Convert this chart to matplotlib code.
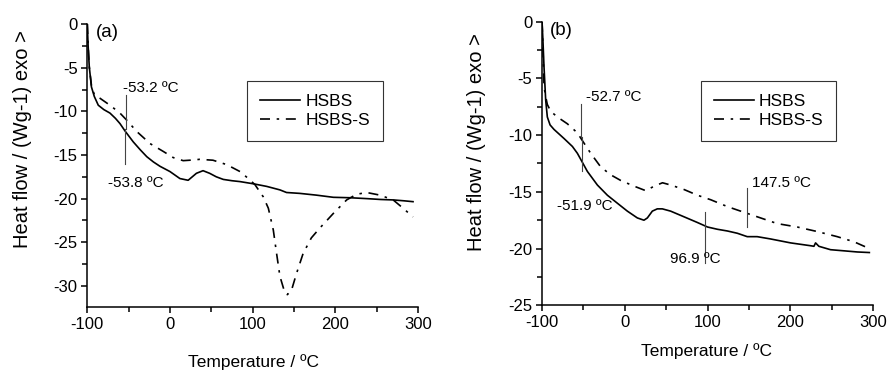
import numpy as np
import matplotlib
matplotlib.use('Agg')
import matplotlib.pyplot as plt
from matplotlib.ticker import MultipleLocator

plt.rcParams['font.family'] = ['Liberation Sans', 'DejaVu Sans']
plt.rcParams['axes.unicode_minus'] = False

# DSC curves, sample (a)
t_a_hsbs = [-100, -99, -97.6, -95, -91.5, -86.7, -80, -72.6, -66, -60.5, -54, -44.4, -36, -28,
            -20, -12, 0, 12, 22, 27, 32, 40, 48, 56, 64.5, 75, 84.7, 100.8, 117, 133, 141, 157,
            177, 197.6, 218, 238, 255, 270, 283, 294]
q_a_hsbs = [0, -2.5, -4.9, -7.2, -8.3, -9.3, -9.8, -10.2, -10.8, -11.4, -12.3, -13.5, -14.4, -15.2,
            -15.8, -16.3, -16.9, -17.7, -17.9, -17.5, -17.1, -16.8, -17.1, -17.5, -17.8, -17.95,
            -18.05, -18.3, -18.6, -19.0, -19.3, -19.4, -19.6, -19.85, -19.9, -20.0, -20.1, -20.15,
            -20.25, -20.35]

t_a_hsbss = [-100, -99, -97.6, -95, -91.5, -84.7, -72.6, -60.5, -52.4, -40.3, -24, -8, 4, 16, 24,
             36, 52, 68.5, 84.7, 94.8, 102.8, 112.9, 119, 125, 129, 133, 139, 142, 147, 153, 161,
             171, 181, 197.6, 213.7, 225.8, 238, 254, 270, 282, 294]
q_a_hsbss = [0, -2.5, -4.9, -7.0, -8.1, -8.5, -9.3, -10.2, -11.0, -12.3, -13.7, -14.6, -15.3,
             -15.65, -15.6, -15.5, -15.6, -16.1, -16.9, -17.7, -18.4, -19.8, -21.1, -23.6, -26.3,
             -28.9, -30.8, -31.0, -30.5, -28.6, -26.3, -24.5, -23.4, -21.7, -20.15, -19.5, -19.3,
             -19.6, -20.15, -21.1, -22.1]

# DSC curves, sample (b)
t_b_hsbs = [-100, -99, -97.6, -95.6, -93.6, -90.3, -85.5, -73.4, -63.3, -57.3, -52, -45.2, -33.1,
            -21, -9, 3.1, 15.2, 23.2, 27.3, 33.3, 39.3, 45.4, 55.4, 71.6, 87.7, 100, 112, 124,
            136, 148, 160, 176, 200.4, 224.6, 228.6, 230.6, 234.6, 248.7, 265, 281, 295.6]
q_b_hsbs = [0, -1.5, -4.0, -6.9, -8.4, -9.1, -9.5, -10.3, -11.0, -11.6, -12.3, -13.2, -14.4,
            -15.3, -16.0, -16.7, -17.3, -17.5, -17.3, -16.7, -16.5, -16.5, -16.7, -17.2, -17.7,
            -18.1, -18.3, -18.45, -18.65, -18.95, -18.95, -19.15, -19.5, -19.75, -19.8, -19.5,
            -19.8, -20.1, -20.2, -20.3, -20.35]

t_b_hsbss = [-100, -99, -97.6, -95.6, -93.6, -89.5, -81.5, -69.4, -57.3, -52, -41.2, -29.1, -17,
             -4.8, 11.3, 25.4, 35.5, 45.6, 55.6, 71.8, 87.9, 104, 124, 148, 164.2, 184.3, 208.5,
             232.6, 256.8, 277, 295.6]
q_b_hsbss = [0, -2.0, -5.7, -6.6, -7.3, -7.9, -8.4, -9.0, -9.8, -10.4, -11.6, -12.8, -13.5, -14.0,
             -14.5, -14.9, -14.5, -14.2, -14.4, -14.8, -15.3, -15.7, -16.3, -16.9, -17.3, -17.8,
             -18.1, -18.5, -18.95, -19.4, -20.0]

# transition temperatures: (value, line y0, line y1, label x, label y)
marks_a = [(-53.2, -8.1, -12.0, -56.8, -7.3), (-53.8, -12.0, -16.0, -75.0, -18.2)]
marks_b = [(-52.7, -7.25, -10.2, -47.3, -6.6), (-51.9, -10.2, -13.2, -81.6, -16.25),
           (96.9, -16.75, -21.3, 55.1, -20.9), (147.5, -14.7, -18.1, 153.4, -14.2)]

dashdot = (6, 4, 1.5, 4)

fig = plt.figure(figsize=(8.88, 3.70), dpi=100)
ax_a = fig.add_axes([0.0983, 0.1695, 0.3724, 0.7655])
ax_b = fig.add_axes([0.6104, 0.1749, 0.3727, 0.7665])


def style(ax, ylo, yticks):
    ax.set_xlim(-100, 300)
    ax.set_ylim(ylo, 0)
    ax.xaxis.set_major_locator(MultipleLocator(100))
    ax.xaxis.set_minor_locator(MultipleLocator(50))
    ax.set_yticks(yticks)
    ax.yaxis.set_minor_locator(MultipleLocator(2.5))
    for s in ['top', 'right']:
        ax.spines[s].set_visible(False)
    for s in ['left', 'bottom']:
        ax.spines[s].set_linewidth(1.1)
    ax.tick_params(which='both', direction='out', width=1.1, labelsize=12, pad=3)
    ax.tick_params(which='major', length=4)
    ax.tick_params(which='minor', length=3.5)
    ax.set_xlabel('Temperature / ºC', fontsize=12.5)
    ax.set_ylabel('Heat flow / (Wg-1) exo >', fontsize=14.5)


def draw(ax, t1, q1, t2, q2, marks, tag):
    ax.plot(t1, q1, color='black', lw=1.2, label='HSBS')
    ax.plot(t2, q2, color='black', lw=1.2, dashes=dashdot, label='HSBS-S')
    for v, y0, y1, lx, ly in marks:
        ax.plot([v, v], [y0, y1], color='#444444', lw=0.8)
        ax.text(lx, ly, f'{v:.1f} ºC', fontsize=11, ha='left', va='center')
    ax.text(0.025, 1.0, tag, transform=ax.transAxes, fontsize=13.5, ha='left', va='top')


style(ax_a, -32.45, [0, -5, -10, -15, -20, -25, -30])
style(ax_b, -25, [0, -5, -10, -15, -20, -25])
draw(ax_a, t_a_hsbs, q_a_hsbs, t_a_hsbss, q_a_hsbss, marks_a, '(a)')
draw(ax_b, t_b_hsbs, q_b_hsbs, t_b_hsbss, q_b_hsbss, marks_b, '(b)')

ax_a.xaxis.set_label_coords(0.504, -0.165)
ax_b.xaxis.set_label_coords(0.498, -0.133)
ax_a.yaxis.set_label_coords(-0.167, 0.595)
ax_b.yaxis.set_label_coords(-0.169, 0.577)

for ax, anchor in [(ax_a, (0.483, 0.799)), (ax_b, (0.479, 0.79))]:
    leg = ax.legend(loc='upper left', bbox_to_anchor=anchor, fontsize=12.5, fancybox=False,
                    edgecolor='#333333', framealpha=1, handlelength=2.3, handletextpad=0.3,
                    borderpad=0.75, labelspacing=0.2, borderaxespad=0)
    leg.get_frame().set_linewidth(0.8)

fig.savefig('out.png', dpi=100)
